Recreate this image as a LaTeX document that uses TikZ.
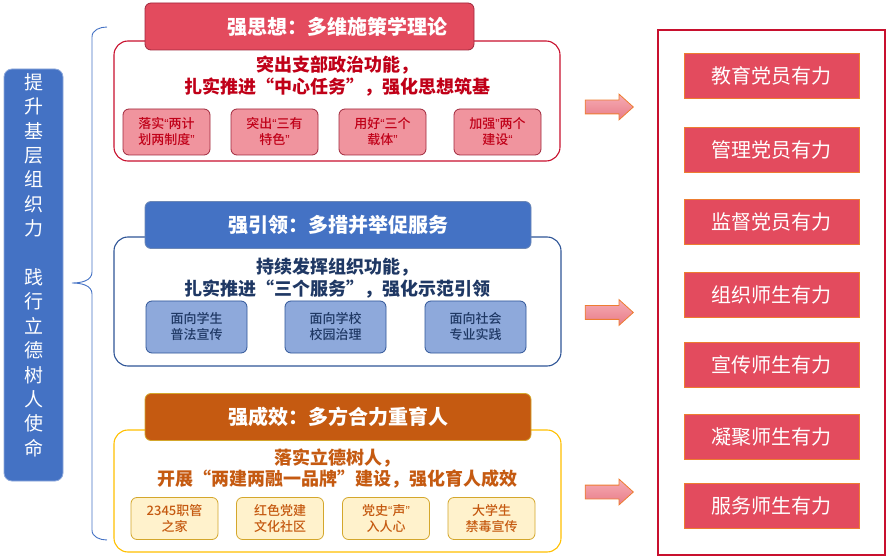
\documentclass[tikz,border=0pt]{standalone}
\usepackage{fontspec}
\setmainfont{Noto Sans CJK SC}
\newfontfamily\mediumcjk{Noto Sans CJK SC Medium}
\newfontfamily\latinq{Liberation Sans}
\usepackage{tikz}
\usetikzlibrary{positioning}
\usetikzlibrary{shapes.arrows}
\definecolor{headred}{RGB}{227,75,94}
\definecolor{linered}{RGB}{200,16,46}
\definecolor{textred}{RGB}{192,0,24}
\definecolor{pinkfill}{RGB}{240,148,158}
\definecolor{pinkline}{RGB}{160,40,60}
\definecolor{headblue}{RGB}{68,114,196}
\definecolor{lineblue}{RGB}{47,85,151}
\definecolor{textblue}{RGB}{31,56,100}
\definecolor{paleblue}{RGB}{142,169,219}
\definecolor{headorange}{RGB}{197,90,17}
\definecolor{linegold}{RGB}{255,192,0}
\definecolor{cream}{RGB}{255,242,204}
\definecolor{creamline}{RGB}{212,167,44}
\definecolor{edgeorange}{RGB}{237,125,49}
\definecolor{arrowtop}{RGB}{246,172,180}
\definecolor{arrowbottom}{RGB}{232,124,136}
\tikzstyle{every smallbox} = [rounded corners=6pt, draw, line width=0.8pt, align=center, font=\mediumcjk\fontsize{13}{16}\selectfont]
\tikzstyle{smallbox} = [every smallbox]

\begin{document}
\begin{tikzpicture}[
		x=1pt, y=-1pt,
		outline/.style = {draw, rounded corners=14pt, line width=1.1pt, fill=white},
		head/.style = {draw, rounded corners=6pt, line width=0.8pt, text=white, minimum height=47pt, font=\bfseries\fontsize{20}{24}\selectfont},
		subline/.style = {align=center, font=\bfseries\fontsize{18}{21.5}\selectfont},
		goalbox/.style = {draw=paleblue, fill=headblue, rounded corners=8pt, line width=0.8pt, minimum width=59pt, minimum height=412pt},
		result/.style = {draw=linered, line width=2pt, minimum width=227pt, minimum height=525pt},
		power/.style = {draw=edgeorange, fill=headred, line width=0.8pt, text=white, minimum width=175pt, minimum height=45pt, font=\fontsize{20}{24}\selectfont},
		flow/.style = {single arrow, draw=edgeorange, line width=0.8pt, top color=arrowtop, bottom color=arrowbottom, minimum height=48pt, inner xsep=0pt, inner ysep=6.5pt, single arrow head extend=6pt, single arrow tip angle=84},
		brace/.style = {draw=headblue, line width=0.9pt}
	]
	\useasboundingbox (0,0) rectangle (887,556);

	\node [goalbox] (goal) at (33.5,275) {};
	\node [align=center, text=white, font=\fontsize{19}{24.4}\selectfont] (goaltext) at (33.5,265)
		{提\\升\\基\\层\\组\\织\\力\\[24.4pt]践\\行\\立\\德\\树\\人\\使\\命};
	\coordinate (tip) at (72,283);
	\draw [brace] (107,27) to[out=180,in=90] (92,37) -- (92,272) to[out=270,in=0] (tip)
		to[out=0,in=90] (92,294) -- (92,530) to[out=270,in=180] (107,540);

	\node [outline, draw=linered, minimum width=446pt, minimum height=120pt] (think) at (337,101) {};
	\node [head, draw=pinkline, fill=headred, minimum width=329pt] (head1) at (309.5,26.5) {};
	\node [text=white, font=\bfseries\fontsize{20}{24}\selectfont] (head1text) at (337,26.5) {强思想：多维施策学理论};
	\node [subline, text=textred] (sub1) at (337,76) {突出支部政治功能，\\扎实推进“中心任务”，强化思想筑基};
	\node [smallbox, draw=pinkline, fill=pinkfill, text=textred, minimum width=87pt, minimum height=46pt] (t1) at (166.5,132) {落实{\latinq “}两计\\划两制度{\latinq ”}};
	\node [smallbox, draw=pinkline, fill=pinkfill, text=textred, minimum width=87pt, minimum height=46pt] (t2) at (274.5,132) {突出{\latinq “}三有\\特色{\latinq ”}};
	\node [smallbox, draw=pinkline, fill=pinkfill, text=textred, minimum width=87pt, minimum height=46pt] (t3) at (382.5,132) {用好{\latinq “}三个\\载体{\latinq ”}};
	\node [smallbox, draw=pinkline, fill=pinkfill, text=textred, minimum width=87pt, minimum height=46pt] (t4) at (497.5,132) {加强{\latinq ”}两个\\建设{\latinq “}};

	\node [outline, draw=lineblue, minimum width=447pt, minimum height=129pt] (lead) at (337.5,301.5) {};
	\node [head, draw=lineblue!70, fill=headblue, minimum width=386pt] (head2) at (338,225) {强引领：多措并举促服务};
	\node [subline, text=textblue] (sub2) at (337,278) {持续发挥组织功能，\\扎实推进“三个服务”，强化示范引领};
	\node [smallbox, draw=lineblue, fill=paleblue, text=textblue, minimum width=101pt, minimum height=52pt] (l1) at (196.5,327) {面向学生\\普法宣传};
	\node [smallbox, draw=lineblue, fill=paleblue, text=textblue, minimum width=101pt, minimum height=52pt] (l2) at (335.5,327) {面向学校\\校园治理};
	\node [smallbox, draw=lineblue, fill=paleblue, text=textblue, minimum width=101pt, minimum height=52pt] (l3) at (475.5,327) {面向社会\\专业实践};

	\node [outline, draw=linegold, minimum width=447pt, minimum height=122pt] (effect) at (337.5,491) {};
	\node [head, draw=creamline, fill=headorange, minimum width=386pt] (head3) at (338,417) {强成效：多方合力重育人};
	\node [subline, text=headorange] (sub3) at (337,468.5) {落实立德树人，\\开展“两建两融一品牌”建设，强化育人成效};
	\node [smallbox, draw=creamline, fill=cream, text=headorange, minimum width=87pt, minimum height=42pt] (e1) at (174.5,518.5) {2345职管\\之家};
	\node [smallbox, draw=creamline, fill=cream, text=headorange, minimum width=87pt, minimum height=42pt] (e2) at (280,518.5) {红色党建\\文化社区};
	\node [smallbox, draw=creamline, fill=cream, text=headorange, minimum width=87pt, minimum height=42pt] (e3) at (386,518.5) {党史{\latinq “}声{\latinq ”}\\入人心};
	\node [smallbox, draw=creamline, fill=cream, text=headorange, minimum width=87pt, minimum height=42pt] (e4) at (491.5,518.5) {大学生\\禁毒宣传};

	\node [flow] (arr1) at (605.5,107) {};
	\node [flow] (arr2) at (605.5,312.5) {};
	\node [flow] (arr3) at (605.5,492) {};

	\node [result] (result) at (771.5,292.5) {};
	\foreach \name/\y/\txt in {r1/75.5/教育党员有力, r2/149.5/管理党员有力, r3/221.5/监督党员有力,
		r4/294.5/组织师生有力, r5/364.5/宣传师生有力, r6/436.5/凝聚师生有力, r7/506/服务师生有力}
		\node [power] (\name) at (771.5,\y) {\txt};
\end{tikzpicture}
\end{document}
